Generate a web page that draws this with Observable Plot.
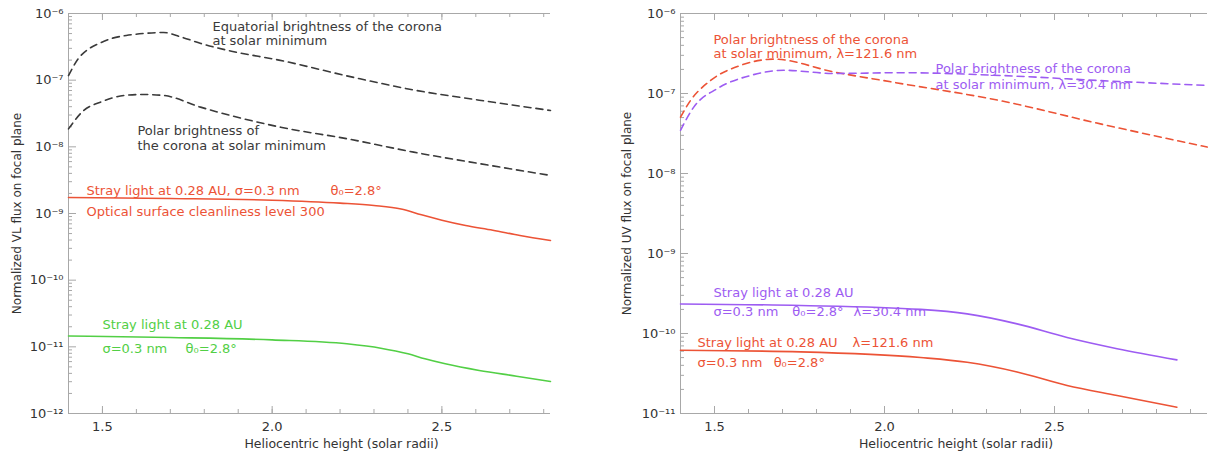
<!DOCTYPE html>
<html><head><meta charset="utf-8">
<script src="https://cdn.jsdelivr.net/npm/d3@7"></script>
<script src="https://cdn.jsdelivr.net/npm/@observablehq/plot@0.6"></script>
<style>
body{margin:0;background:#fff;}
#wrap{display:flex;width:1210px;height:453px;overflow:hidden;}
</style></head><body><div id="wrap"></div>
<script>
// ---------- Data: left panel (visible light) ----------
const vlEquatorialX = [1.40,1.43,1.46,1.49,1.53,1.57,1.62,1.68,1.73,1.79,1.88,2.02,2.24,2.42,2.61,2.82];
const vlEquatorialY = [1.17e-7,2.14e-7,2.95e-7,3.55e-7,4.27e-7,4.68e-7,5.01e-7,5.19e-7,4.47e-7,3.55e-7,2.72e-7,2.0e-7,1.10e-7,7.08e-8,5.01e-8,3.51e-8];
const vlPolarX = [1.40,1.445,1.494,1.563,1.62,1.681,1.789,2.025,2.221,2.417,2.614,2.82];
const vlPolarY = [1.86e-8,3.51e-8,4.68e-8,5.89e-8,6.10e-8,5.89e-8,3.94e-8,1.97e-8,1.32e-8,8.32e-9,5.56e-9,3.72e-9];
const vlStray300X = [1.40,1.70,2.00,2.20,2.30,2.38,2.44,2.50,2.57,2.65,2.73,2.82];
const vlStray300Y = [1.74e-9,1.68e-9,1.58e-9,1.43e-9,1.32e-9,1.17e-9,9.55e-10,7.94e-10,6.61e-10,5.62e-10,4.68e-10,3.94e-10];
const vlStrayX = [1.40,1.70,2.00,2.22,2.32,2.40,2.45,2.51,2.61,2.72,2.82];
const vlStrayY = [1.45e-11,1.38e-11,1.27e-11,1.11e-11,9.55e-12,7.85e-12,6.61e-12,5.56e-12,4.42e-12,3.63e-12,3.02e-12];

// ---------- Data: right panel (UV) ----------
const uvLyaCoronaX = [1.40,1.429,1.488,1.576,1.675,1.851,2.027,2.341,2.635,2.949];
const uvLyaCoronaY = [5.06e-8,8.13e-8,1.45e-7,2.24e-7,2.69e-7,1.86e-7,1.38e-7,8.13e-8,4.17e-8,2.14e-8];
const uvHeCoronaX = [1.40,1.439,1.508,1.606,1.704,1.851,2.047,2.341,2.635,2.949];
const uvHeCoronaY = [3.47e-8,6.76e-8,1.15e-7,1.68e-7,1.95e-7,1.78e-7,1.82e-7,1.68e-7,1.45e-7,1.26e-7];
const uvHeStrayX = [1.40,1.753,2.106,2.243,2.39,2.537,2.684,2.86];
const uvHeStrayY = [2.34e-10,2.24e-10,2.0e-10,1.76e-10,1.32e-10,8.91e-11,6.46e-11,4.68e-11];
const uvLyaStrayX = [1.40,1.753,2.106,2.243,2.39,2.537,2.684,2.86];
const uvLyaStrayY = [6.17e-11,5.89e-11,5.01e-11,4.37e-11,3.31e-11,2.24e-11,1.68e-11,1.20e-11];

// ---------- Axes / ticks ----------
const vlXDomain = [1.4, 2.82];
const uvXDomain = [1.4, 2.95];
const vlYTicks = [1e-12,1e-11,1e-10,1e-9,1e-8,1e-7,1e-6];
const uvYTicks = [1e-11,1e-10,1e-9,1e-8,1e-7,1e-6];
const xMajorTicks = [1.5, 2.0, 2.5];
const vlXMinorTicks = [1.4,1.5,1.6,1.7,1.8,1.9,2.0,2.1,2.2,2.3,2.4,2.5,2.6,2.7,2.8];
const uvXMinorTicks = [1.4,1.5,1.6,1.7,1.8,1.9,2.0,2.1,2.2,2.3,2.4,2.5,2.6,2.7,2.8,2.9];
const xAxisLabel = "Heliocentric height (solar radii)";
const vlYAxisLabel = "Normalized VL flux on focal plane";
const uvYAxisLabel = "Normalized UV flux on focal plane";

// ---------- Annotations ----------
const BLACK = "#3a3a3a", RED = "#ec5336", GREEN = "#52cf45", PURPLE = "#9d5cf2";
const vlNotes = [
  {text:"Equatorial brightness of the corona", x:1.824, y:6.38e-7, c:BLACK},
  {text:"at solar minimum", x:1.824, y:3.94e-7, c:BLACK},
  {text:"Polar brightness of", x:1.603, y:1.75e-8, c:BLACK},
  {text:"the corona at solar minimum", x:1.603, y:1.05e-8, c:BLACK},
  {text:"Stray light at 0.28 AU, σ=0.3 nm", x:1.453, y:2.21e-9, c:RED},
  {text:"θ₀=2.8°", x:2.172, y:2.21e-9, c:RED},
  {text:"Optical surface cleanliness level 300", x:1.453, y:1.07e-9, c:RED},
  {text:"Stray light at 0.28 AU", x:1.50, y:2.16e-11, c:GREEN},
  {text:"σ=0.3 nm", x:1.50, y:9.44e-12, c:GREEN},
  {text:"θ₀=2.8°", x:1.745, y:9.44e-12, c:GREEN}
];
const uvNotes = [
  {text:"Polar brightness of the corona", x:1.497, y:4.73e-7, c:RED},
  {text:"at solar minimum, λ=121.6 nm", x:1.497, y:3.16e-7, c:RED},
  {text:"Polar brightness of the corona", x:2.15, y:2.05e-7, c:PURPLE},
  {text:"at solar minimum, λ=30.4 nm", x:2.15, y:1.30e-7, c:PURPLE},
  {text:"Stray light at 0.28 AU", x:1.497, y:3.25e-10, c:PURPLE},
  {text:"σ=0.3 nm", x:1.497, y:1.88e-10, c:PURPLE},
  {text:"θ₀=2.8°", x:1.729, y:1.88e-10, c:PURPLE},
  {text:"λ=30.4 nm", x:1.909, y:1.88e-10, c:PURPLE},
  {text:"Stray light at 0.28 AU", x:1.45, y:7.7e-11, c:RED},
  {text:"λ=121.6 nm", x:1.906, y:7.7e-11, c:RED},
  {text:"σ=0.3 nm", x:1.45, y:4.34e-11, c:RED},
  {text:"θ₀=2.8°", x:1.674, y:4.34e-11, c:RED}
];

// ---------- helpers ----------
const SUP = {"-":"⁻","0":"⁰","1":"¹","2":"²","3":"³","4":"⁴","5":"⁵","6":"⁶","7":"⁷","8":"⁸","9":"⁹"};
const powFmt = d => "10" + String(Math.round(Math.log10(d))).split("").map(ch => SUP[ch]).join("");
const pts = (xs, ys) => xs.map((x, i) => ({x, y: ys[i]}));
const minorLog = ticks => ticks.slice(0, -1).flatMap(t => [2,3,4,5,6,7,8,9].map(k => k * t));

const AX = "#a8a8a8";
const FONT = "DejaVu Sans";

function panel({width, marginLeft, marginRight, xDomain, yTicks, xMinor, ylabel, xlabelDx, ylabelDx, series, notes}) {
  const marginTop = 13, marginBottom = 40, height = 453;
  const ph = height - marginTop - marginBottom;
  const pw = width - marginLeft - marginRight;
  const yDomain = [yTicks[0], yTicks[yTicks.length - 1]];
  return Plot.plot({
    width, height, marginLeft, marginRight, marginTop, marginBottom,
    x: {domain: xDomain, axis: null},
    y: {type: "log", domain: yDomain, axis: null},
    color: {type: "identity"},
    style: {fontFamily: FONT, fontSize: "12px", background: "#fff", color: "#333", overflow: "visible"},
    marks: [
      Plot.ruleX([xDomain[0]], {stroke: AX}),
      Plot.ruleY([yDomain[0]], {stroke: AX}),
      Plot.ruleY([yDomain[1]], {stroke: AX}),
      Plot.tickX(xMinor, {x: d => d, stroke: AX, insetTop: ph - 4}),
      Plot.tickX(xMajorTicks, {x: d => d, stroke: AX, insetTop: ph - 7}),
      Plot.tickX(xMinor, {x: d => d, stroke: AX, insetBottom: ph - 4}),
      Plot.tickX(xMajorTicks, {x: d => d, stroke: AX, insetBottom: ph - 7}),
      Plot.tickY(minorLog(yTicks), {y: d => d, stroke: AX, insetRight: pw - 4}),
      Plot.tickY(yTicks, {y: d => d, stroke: AX, insetRight: pw - 8}),
      Plot.axisX({ticks: xMajorTicks, tickSize: 0, tickPadding: 8, tickFormat: d => d.toFixed(1), label: null, fontSize: 13, fill: "#333"}),
      Plot.axisY({ticks: yTicks, tickSize: 0, tickPadding: 5, tickFormat: powFmt, label: null, fontSize: 13, fill: "#333"}),
      Plot.text([ylabel], {frameAnchor: "left", textAnchor: "middle", lineAnchor: "middle", rotate: -90, dx: ylabelDx, fontSize: 12, fill: "#333"}),
      Plot.text([xAxisLabel], {frameAnchor: "bottom", textAnchor: "middle", lineAnchor: "middle", dx: xlabelDx, dy: 30, fontSize: 12.5, fill: "#333"}),
      ...series.map(s => Plot.line(s.data, {x: "x", y: "y", stroke: s.color, strokeWidth: 1.6,
        strokeDasharray: s.dash ? "7,5" : null, curve: "monotone-x"})),
      Plot.text(notes, {x: "x", y: "y", text: "text", fill: "c", textAnchor: "start", lineAnchor: "middle", fontSize: 13})
    ]
  });
}

const left = panel({
  width: 605, marginLeft: 68, marginRight: 55, xDomain: vlXDomain, yTicks: vlYTicks, xMinor: vlXMinorTicks,
  ylabel: vlYAxisLabel, xlabelDx: 32, ylabelDx: -51,
  series: [
    {data: pts(vlEquatorialX, vlEquatorialY), color: BLACK, dash: true},
    {data: pts(vlPolarX, vlPolarY), color: BLACK, dash: true},
    {data: pts(vlStray300X, vlStray300Y), color: RED},
    {data: pts(vlStrayX, vlStrayY), color: GREEN}
  ],
  notes: vlNotes
});
const right = panel({
  width: 605, marginLeft: 75, marginRight: 3, xDomain: uvXDomain, yTicks: uvYTicks, xMinor: uvXMinorTicks,
  ylabel: uvYAxisLabel, xlabelDx: 12, ylabelDx: -53,
  series: [
    {data: pts(uvLyaCoronaX, uvLyaCoronaY), color: RED, dash: true},
    {data: pts(uvHeCoronaX, uvHeCoronaY), color: PURPLE, dash: true},
    {data: pts(uvHeStrayX, uvHeStrayY), color: PURPLE},
    {data: pts(uvLyaStrayX, uvLyaStrayY), color: RED}
  ],
  notes: uvNotes
});
document.getElementById("wrap").append(left, right);
</script></body></html>
